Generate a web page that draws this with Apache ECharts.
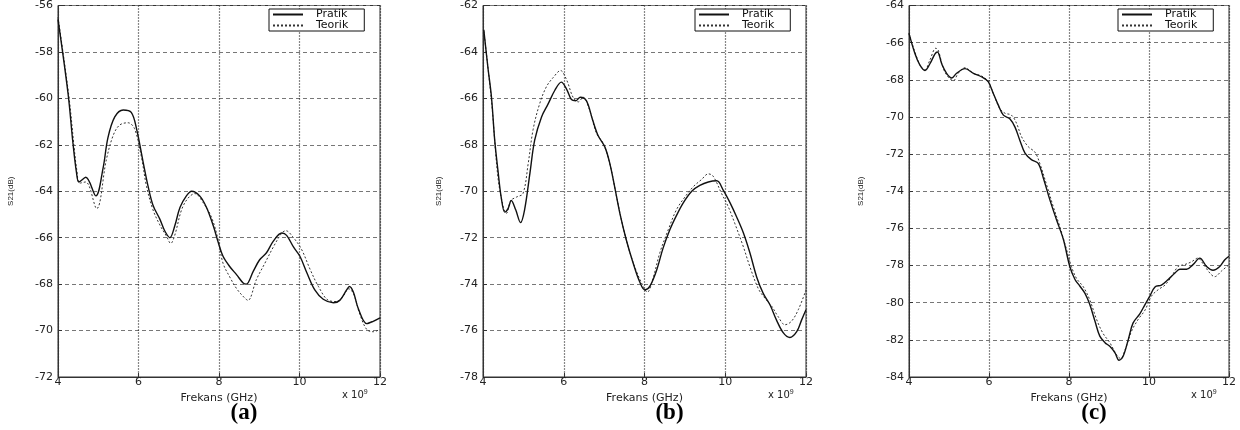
<!DOCTYPE html>
<html>
<head>
<meta charset="utf-8">
<title>S21 - Pratik / Teorik</title>
<script src="https://cdn.jsdelivr.net/npm/echarts@6/dist/echarts.min.js"></script>
<style>
  html, body { margin: 0; padding: 0; background: #fff; }
  #chart { width: 1240px; height: 430px; }
</style>
</head>
<body>
<div id="chart"></div>
<script>
// x in GHz (axis is labelled x 10^9 Hz), y in dB
const xTicks = [4, 6, 8, 10, 12];
const panelLabels = ['(a)', '(b)', '(c)'];
const yRanges = [[-72, -56], [-78, -62], [-84, -64]];

const aPratik = [
    [4.00, -56.6], [4.25, -59.8], [4.37, -61.9], [4.46, -63.2], [4.52, -63.6], [4.69, -63.4],
    [4.94, -64.2], [5.12, -63.0], [5.24, -61.7], [5.41, -60.8], [5.62, -60.5], [5.82, -60.6],
    [5.95, -61.3], [6.11, -62.7], [6.24, -63.8], [6.36, -64.6], [6.53, -65.2], [6.65, -65.7],
    [6.78, -66.0], [6.90, -65.5], [7.03, -64.7], [7.19, -64.2], [7.32, -64.0], [7.52, -64.2],
    [7.69, -64.7], [7.86, -65.5], [7.98, -66.2], [8.10, -66.8], [8.27, -67.25], [8.44, -67.6],
    [8.60, -67.95], [8.68, -68.0], [8.85, -67.45], [9.01, -66.95], [9.18, -66.65], [9.35, -66.15],
    [9.56, -65.8], [9.68, -65.9], [9.85, -66.4], [10.01, -66.8], [10.18, -67.5], [10.38, -68.25],
    [10.59, -68.65], [10.84, -68.8], [11.00, -68.7], [11.17, -68.25], [11.24, -68.1], [11.34, -68.35],
    [11.46, -69.05], [11.67, -69.7], [11.83, -69.6], [12.00, -69.45]
];
const aTeorik = [
    [4.00, -56.5], [4.27, -59.9], [4.40, -62.1], [4.46, -63.0], [4.54, -63.65], [4.69, -63.6],
    [4.96, -64.75], [5.20, -62.65], [5.37, -61.6], [5.53, -61.15], [5.74, -61.05], [5.90, -61.3],
    [6.07, -62.5], [6.20, -63.8], [6.36, -64.8], [6.53, -65.45], [6.70, -65.95], [6.80, -66.25],
    [6.90, -65.9], [7.07, -64.8], [7.23, -64.3], [7.40, -64.1], [7.61, -64.5], [7.82, -65.15],
    [7.98, -66.1], [8.10, -67.1], [8.27, -67.7], [8.44, -68.2], [8.64, -68.6], [8.72, -68.7],
    [8.93, -67.8], [9.14, -67.1], [9.35, -66.4], [9.56, -65.8], [9.66, -65.7], [9.85, -66.0],
    [10.05, -66.5], [10.26, -67.35], [10.47, -68.1], [10.72, -68.7], [10.93, -68.75], [11.09, -68.5],
    [11.22, -68.2], [11.34, -68.4], [11.50, -69.3], [11.67, -69.95], [11.83, -70.05], [12.00, -69.95]
];

const bPratik = [
    [4.02, -63.05], [4.12, -64.65], [4.21, -65.95], [4.29, -67.8], [4.37, -69.1], [4.45, -70.25],
    [4.54, -70.9], [4.62, -70.75], [4.70, -70.4], [4.81, -70.8], [4.93, -71.35], [5.03, -70.8],
    [5.16, -69.25], [5.28, -67.8], [5.45, -66.8], [5.61, -66.25], [5.78, -65.65], [5.94, -65.3],
    [6.07, -65.6], [6.19, -66.05], [6.30, -66.1], [6.41, -65.95], [6.56, -66.1], [6.71, -66.9],
    [6.85, -67.6], [7.02, -68.1], [7.14, -68.8], [7.26, -69.8], [7.39, -70.95], [7.55, -72.1],
    [7.72, -73.1], [7.88, -73.9], [8.01, -74.25], [8.13, -74.1], [8.30, -73.4], [8.46, -72.45],
    [8.63, -71.65], [8.79, -71.05], [8.96, -70.5], [9.17, -70.0], [9.37, -69.75], [9.58, -69.6],
    [9.79, -69.55], [9.95, -69.95], [10.12, -70.5], [10.28, -71.1], [10.45, -71.8], [10.61, -72.65],
    [10.78, -73.7], [10.94, -74.4], [11.11, -74.9], [11.27, -75.55], [11.44, -76.1], [11.60, -76.3],
    [11.77, -76.05], [11.89, -75.55], [12.00, -75.1]
];
const bTeorik = [
    [4.02, -63.1], [4.21, -66.1], [4.37, -69.4], [4.50, -70.65], [4.58, -70.95], [4.69, -70.4],
    [4.83, -70.25], [4.99, -70.1], [5.12, -68.8], [5.24, -67.35], [5.40, -66.25], [5.57, -65.5],
    [5.74, -65.1], [5.92, -64.8], [6.07, -65.2], [6.23, -65.95], [6.36, -66.15], [6.48, -65.95],
    [6.64, -66.5], [6.81, -67.5], [6.98, -67.95], [7.14, -68.8], [7.31, -70.25], [7.47, -71.55],
    [7.64, -72.65], [7.80, -73.45], [7.97, -74.1], [8.07, -74.35], [8.21, -73.75], [8.38, -72.65],
    [8.59, -71.65], [8.79, -70.8], [9.00, -70.25], [9.21, -69.8], [9.41, -69.5], [9.58, -69.25],
    [9.70, -69.35], [9.91, -70.1], [10.07, -70.65], [10.24, -71.4], [10.45, -72.4], [10.61, -73.25],
    [10.82, -74.2], [10.98, -74.6], [11.15, -74.95], [11.31, -75.4], [11.48, -75.75], [11.64, -75.6],
    [11.81, -75.1], [12.00, -74.25]
];

const cPratik = [
    [4.00, -65.5], [4.15, -66.6], [4.27, -67.2], [4.40, -67.5], [4.52, -67.15], [4.65, -66.6],
    [4.71, -66.5], [4.82, -67.15], [4.94, -67.65], [5.07, -67.9], [5.19, -67.65], [5.40, -67.4],
    [5.61, -67.65], [5.82, -67.85], [5.98, -68.1], [6.11, -68.75], [6.23, -69.35], [6.36, -69.9],
    [6.52, -70.1], [6.65, -70.55], [6.77, -71.25], [6.90, -71.95], [7.06, -72.3], [7.23, -72.5],
    [7.36, -73.3], [7.52, -74.45], [7.69, -75.55], [7.86, -76.6], [8.02, -78.05], [8.15, -78.75],
    [8.27, -79.1], [8.40, -79.5], [8.52, -80.1], [8.65, -81.0], [8.77, -81.8], [8.90, -82.15],
    [9.02, -82.35], [9.15, -82.7], [9.25, -83.1], [9.35, -82.9], [9.48, -82.0], [9.60, -81.1],
    [9.77, -80.6], [9.90, -80.1], [10.02, -79.65], [10.15, -79.15], [10.31, -79.05], [10.48, -78.75],
    [10.65, -78.4], [10.77, -78.2], [10.94, -78.2], [11.10, -77.95], [11.27, -77.6], [11.44, -78.05],
    [11.60, -78.25], [11.77, -78.05], [11.89, -77.7], [12.00, -77.5]
];
const cTeorik = [
    [4.00, -65.5], [4.27, -67.2], [4.40, -67.45], [4.52, -66.95], [4.67, -66.3], [4.73, -66.4],
    [4.86, -67.4], [4.98, -67.85], [5.11, -68.05], [5.23, -67.65], [5.40, -67.35], [5.61, -67.65],
    [5.82, -67.8], [5.98, -68.1], [6.11, -68.75], [6.27, -69.55], [6.40, -69.8], [6.56, -69.9],
    [6.69, -70.35], [6.81, -71.05], [6.98, -71.6], [7.15, -71.9], [7.27, -72.5], [7.44, -73.65],
    [7.61, -74.85], [7.77, -75.9], [7.94, -77.15], [8.06, -78.05], [8.19, -78.7], [8.36, -79.15],
    [8.52, -79.85], [8.69, -80.9], [8.85, -81.65], [9.02, -82.15], [9.19, -82.8], [9.29, -83.0],
    [9.40, -82.55], [9.56, -81.55], [9.73, -80.9], [9.90, -80.4], [10.06, -79.65], [10.23, -79.3],
    [10.40, -79.05], [10.56, -78.6], [10.73, -78.05], [10.89, -77.95], [11.06, -77.8], [11.22, -77.6],
    [11.35, -77.9], [11.52, -78.4], [11.64, -78.6], [11.81, -78.3], [12.00, -77.95]
];

const pratikData = [aPratik, bPratik, cPratik];
const teorikData = [aTeorik, bTeorik, cTeorik];

document.addEventListener('DOMContentLoaded', function () {
    var myChart = echarts.init(document.getElementById('chart'), null, { renderer: 'canvas' });

    const font = 'DejaVu Sans';
    // plot boxes: left edge, width
    const boxes = [[58, 322], [483, 323], [909, 320]];
    const nameGaps = [43, 40, 44];

    let grids = [], xAxes = [], yAxes = [], series = [], legends = [], graphics = [];

    boxes.forEach(function (b, i) {
        grids.push({
            left: b[0], top: 5, width: b[1], height: 372,
            show: true, borderColor: '#333', borderWidth: 1, backgroundColor: '#fff'
        });
        xAxes.push({
            type: 'value', gridIndex: i,
            min: xTicks[0], max: xTicks[xTicks.length - 1], interval: 2,
            name: 'Frekans (GHz)', nameLocation: 'middle', nameGap: 12,
            nameTextStyle: { fontFamily: font, fontSize: 11, color: '#222' },
            axisLine: { lineStyle: { color: '#333' } },
            axisTick: { inside: true, length: 4, lineStyle: { color: '#333' } },
            axisLabel: { fontFamily: font, fontSize: 11, color: '#222', margin: 0 },
            splitLine: { show: true, lineStyle: { color: '#111', type: [1, 2], width: 1.2 } }
        });
        yAxes.push({
            type: 'value', gridIndex: i,
            min: yRanges[i][0], max: yRanges[i][1], interval: 2,
            name: 'S21(dB)', nameLocation: 'middle', nameRotate: 90, nameGap: nameGaps[i],
            nameTextStyle: { fontFamily: 'Liberation Sans', fontSize: 8, color: '#222' },
            axisLine: { show: true, lineStyle: { color: '#333' } },
            axisTick: { inside: true, length: 4, lineStyle: { color: '#333' } },
            axisLabel: { fontFamily: font, fontSize: 11, color: '#222', margin: 5 },
            splitLine: { show: true, lineStyle: { color: '#777', type: [4, 3], width: 1 } }
        });
        series.push({
            name: 'Pratik', type: 'line', xAxisIndex: i, yAxisIndex: i,
            data: pratikData[i], showSymbol: false, symbol: 'none', smooth: 0.35,
            itemStyle: { color: '#111' },
            lineStyle: { color: '#111', width: 1.4 }, z: 3
        });
        series.push({
            name: 'Teorik', type: 'line', xAxisIndex: i, yAxisIndex: i,
            data: teorikData[i], showSymbol: false, symbol: 'none', smooth: 0.35,
            itemStyle: { color: '#333' },
            lineStyle: { color: '#333', width: 1, type: [2, 2] }, z: 2
        });
        legends.push({
            data: ['Pratik', 'Teorik'],
            orient: 'vertical',
            left: b[0] + b[1] - 111, top: 9,
            padding: [0, 16, 0, 3],
            itemGap: 0, itemWidth: 30, itemHeight: 6,
            borderColor: '#111', borderWidth: 1, backgroundColor: '#fff',
            selectedMode: false,
            itemStyle: { opacity: 0 },
            textStyle: { fontFamily: font, fontSize: 11, color: '#111', lineHeight: 8, height: 8, padding: [0, 0, 0, 8] }
        });
        graphics.push({
            type: 'text', left: b[0] + b[1] - 38, top: 389,
            style: {
                text: 'x 10{s|9}', fontFamily: font, fontSize: 10, fill: '#222',
                rich: { s: { fontSize: 7, verticalAlign: 'top', padding: [0, 0, 5, 0] } }
            }
        });
        graphics.push({
            type: 'text', x: b[0] + b[1] / 2 + 25, y: 402,
            style: {
                text: panelLabels[i], fontFamily: 'Liberation Serif', fontWeight: 'bold',
                fontSize: 23, fill: '#000', textAlign: 'center'
            }
        });
    });

    var option = {
        animation: false,
        backgroundColor: '#fff',
        grid: grids,
        xAxis: xAxes,
        yAxis: yAxes,
        legend: legends,
        series: series,
        graphic: graphics
    };

    option && myChart.setOption(option);

    window.addEventListener('resize', function () {
        myChart.resize();
    });
});
</script>
</body>
</html>
